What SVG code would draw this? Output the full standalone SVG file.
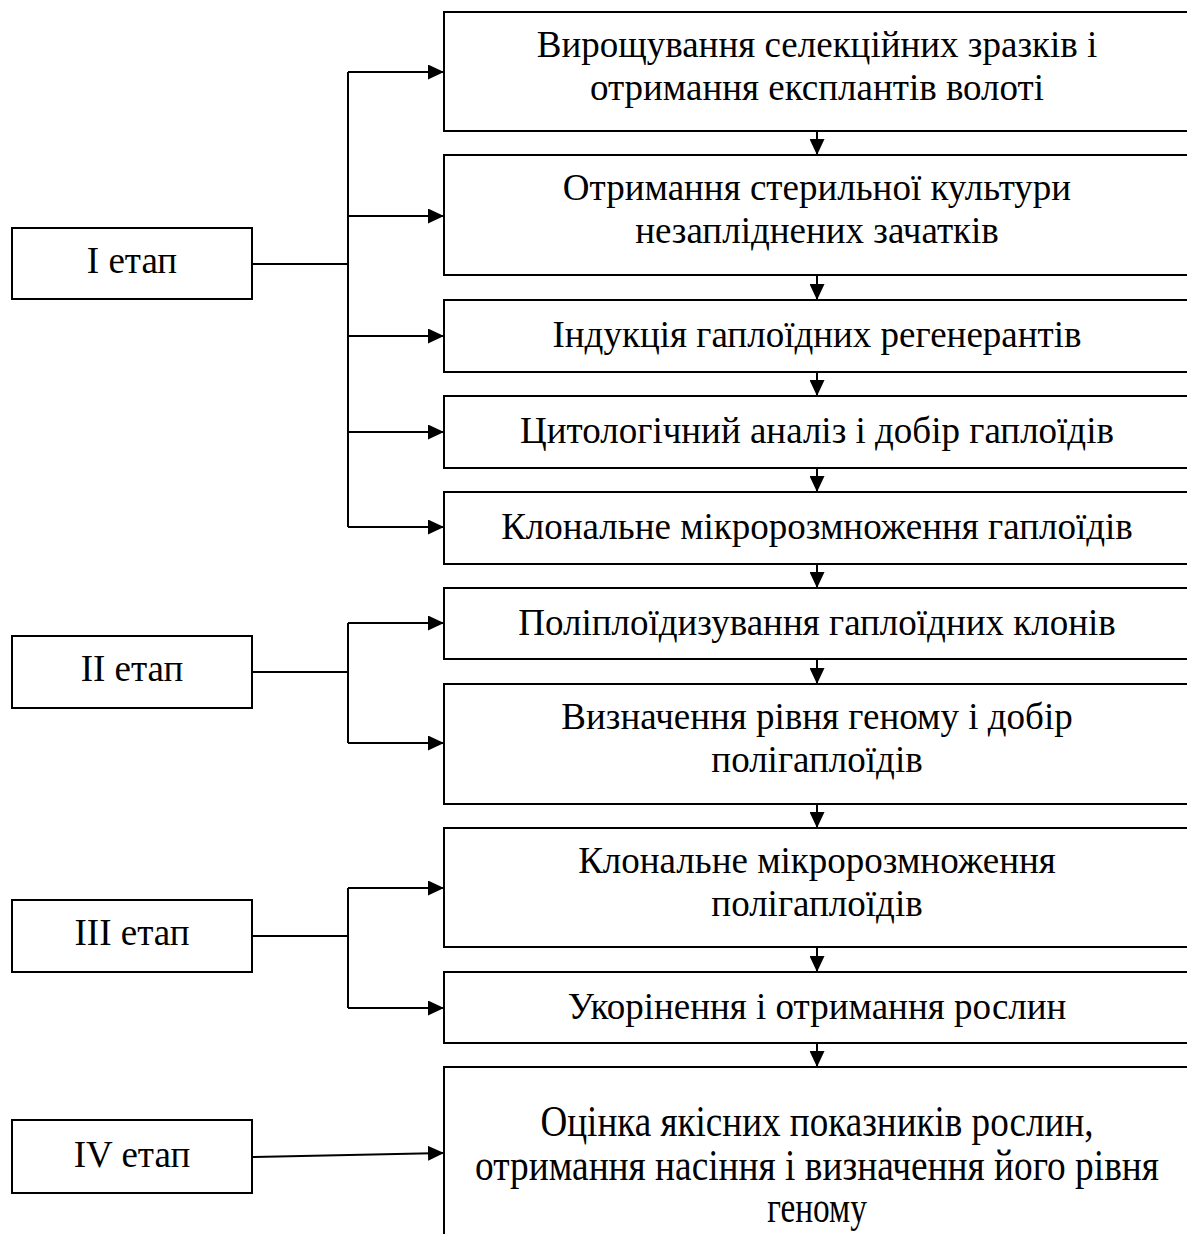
<svg xmlns="http://www.w3.org/2000/svg" width="1187" height="1234" viewBox="0 0 1187 1234">
<style>
.box{fill:#fff;stroke:#000;stroke-width:2}
.t{font-family:"Liberation Serif","Times New Roman",serif;font-size:37px;fill:#000;text-anchor:middle}
.s{font-family:"Liberation Serif","Times New Roman",serif;font-size:37px;fill:#000;text-anchor:middle}
.c{fill:none;stroke:#000;stroke-width:2}
.b{font-family:"Liberation Serif","Times New Roman",serif;font-size:44px;fill:#000;text-anchor:middle}
</style>
<defs>
<marker id="ah" markerUnits="userSpaceOnUse" markerWidth="16" markerHeight="15" refX="16" refY="7.5" orient="auto">
<path d="M0,0 L16,7.5 L0,15 z" fill="#000"/>
</marker>
</defs>
<rect width="1187" height="1234" fill="#fff"/>
<g id="connectors">
<path class="c" d="M252,264 H348 M348,72 V527"/>
<path class="c" d="M348,72 H444" marker-end="url(#ah)"/>
<path class="c" d="M348,216 H444" marker-end="url(#ah)"/>
<path class="c" d="M348,336 H444" marker-end="url(#ah)"/>
<path class="c" d="M348,432 H444" marker-end="url(#ah)"/>
<path class="c" d="M348,527 H444" marker-end="url(#ah)"/>
<path class="c" d="M252,672 H348 M348,623 V743"/>
<path class="c" d="M348,623 H444" marker-end="url(#ah)"/>
<path class="c" d="M348,743 H444" marker-end="url(#ah)"/>
<path class="c" d="M252,936 H348 M348,888 V1008"/>
<path class="c" d="M348,888 H444" marker-end="url(#ah)"/>
<path class="c" d="M348,1008 H444" marker-end="url(#ah)"/>
<path class="c" d="M252,1157 L444,1153" marker-end="url(#ah)"/>
<path class="c" d="M817,131 V155" marker-end="url(#ah)"/>
<path class="c" d="M817,275 V300" marker-end="url(#ah)"/>
<path class="c" d="M817,372 V396" marker-end="url(#ah)"/>
<path class="c" d="M817,468 V492" marker-end="url(#ah)"/>
<path class="c" d="M817,564 V588" marker-end="url(#ah)"/>
<path class="c" d="M817,659 V684" marker-end="url(#ah)"/>
<path class="c" d="M817,804 V828" marker-end="url(#ah)"/>
<path class="c" d="M817,947 V972" marker-end="url(#ah)"/>
<path class="c" d="M817,1043 V1067" marker-end="url(#ah)"/>
</g>
<g id="stage1"><rect class="box" x="12" y="228" width="240" height="71"/><text class="s" x="132" y="273">I етап</text></g>
<g id="stage2"><rect class="box" x="12" y="636" width="240" height="72"/><text class="s" x="132" y="681">II етап</text></g>
<g id="stage3"><rect class="box" x="12" y="900" width="240" height="72"/><text class="s" x="132" y="945">III етап</text></g>
<g id="stage4"><rect class="box" x="12" y="1120" width="240" height="73"/><text class="s" x="132" y="1167">IV етап</text></g>
<g id="step1"><rect class="box" x="444" y="12" width="748" height="119"/><text class="t" x="817" y="57">Вирощування селекційних зразків і</text><text class="t" x="817" y="100">отримання експлантів волоті</text></g>
<g id="step2"><rect class="box" x="444" y="155" width="748" height="120"/><text class="t" x="817" y="200">Отримання стерильної культури</text><text class="t" x="817" y="243">незапліднених зачатків</text></g>
<g id="step3"><rect class="box" x="444" y="300" width="748" height="72"/><text class="t" x="817" y="347">Індукція гаплоїдних регенерантів</text></g>
<g id="step4"><rect class="box" x="444" y="396" width="748" height="72"/><text class="t" x="817" y="443">Цитологічний аналіз і добір гаплоїдів</text></g>
<g id="step5"><rect class="box" x="444" y="492" width="748" height="72"/><text class="t" x="817" y="539">Клональне мікророзмноження гаплоїдів</text></g>
<g id="step6"><rect class="box" x="444" y="588" width="748" height="71"/><text class="t" x="817" y="635">Поліплоїдизування гаплоїдних клонів</text></g>
<g id="step7"><rect class="box" x="444" y="684" width="748" height="120"/><text class="t" x="817" y="729">Визначення рівня геному і добір</text><text class="t" x="817" y="772">полігаплоїдів</text></g>
<g id="step8"><rect class="box" x="444" y="828" width="748" height="119"/><text class="t" x="817" y="873">Клональне мікророзмноження</text><text class="t" x="817" y="916">полігаплоїдів</text></g>
<g id="step9"><rect class="box" x="444" y="972" width="748" height="71"/><text class="t" x="817" y="1019">Укорінення і отримання рослин</text></g>
<g id="step10"><rect class="box" x="444" y="1067" width="748" height="200"/>
<g transform="translate(817,0) scale(0.817,1)">
<text class="b" x="0" y="1136" textLength="677" lengthAdjust="spacingAndGlyphs">Оцінка якісних показників рослин,</text>
<text class="b" x="0" y="1180" textLength="837" lengthAdjust="spacingAndGlyphs">отримання насіння і визначення його рівня</text>
<text class="b" x="0" y="1222" textLength="122" lengthAdjust="spacingAndGlyphs">геному</text>
</g>
</g>
</svg>
